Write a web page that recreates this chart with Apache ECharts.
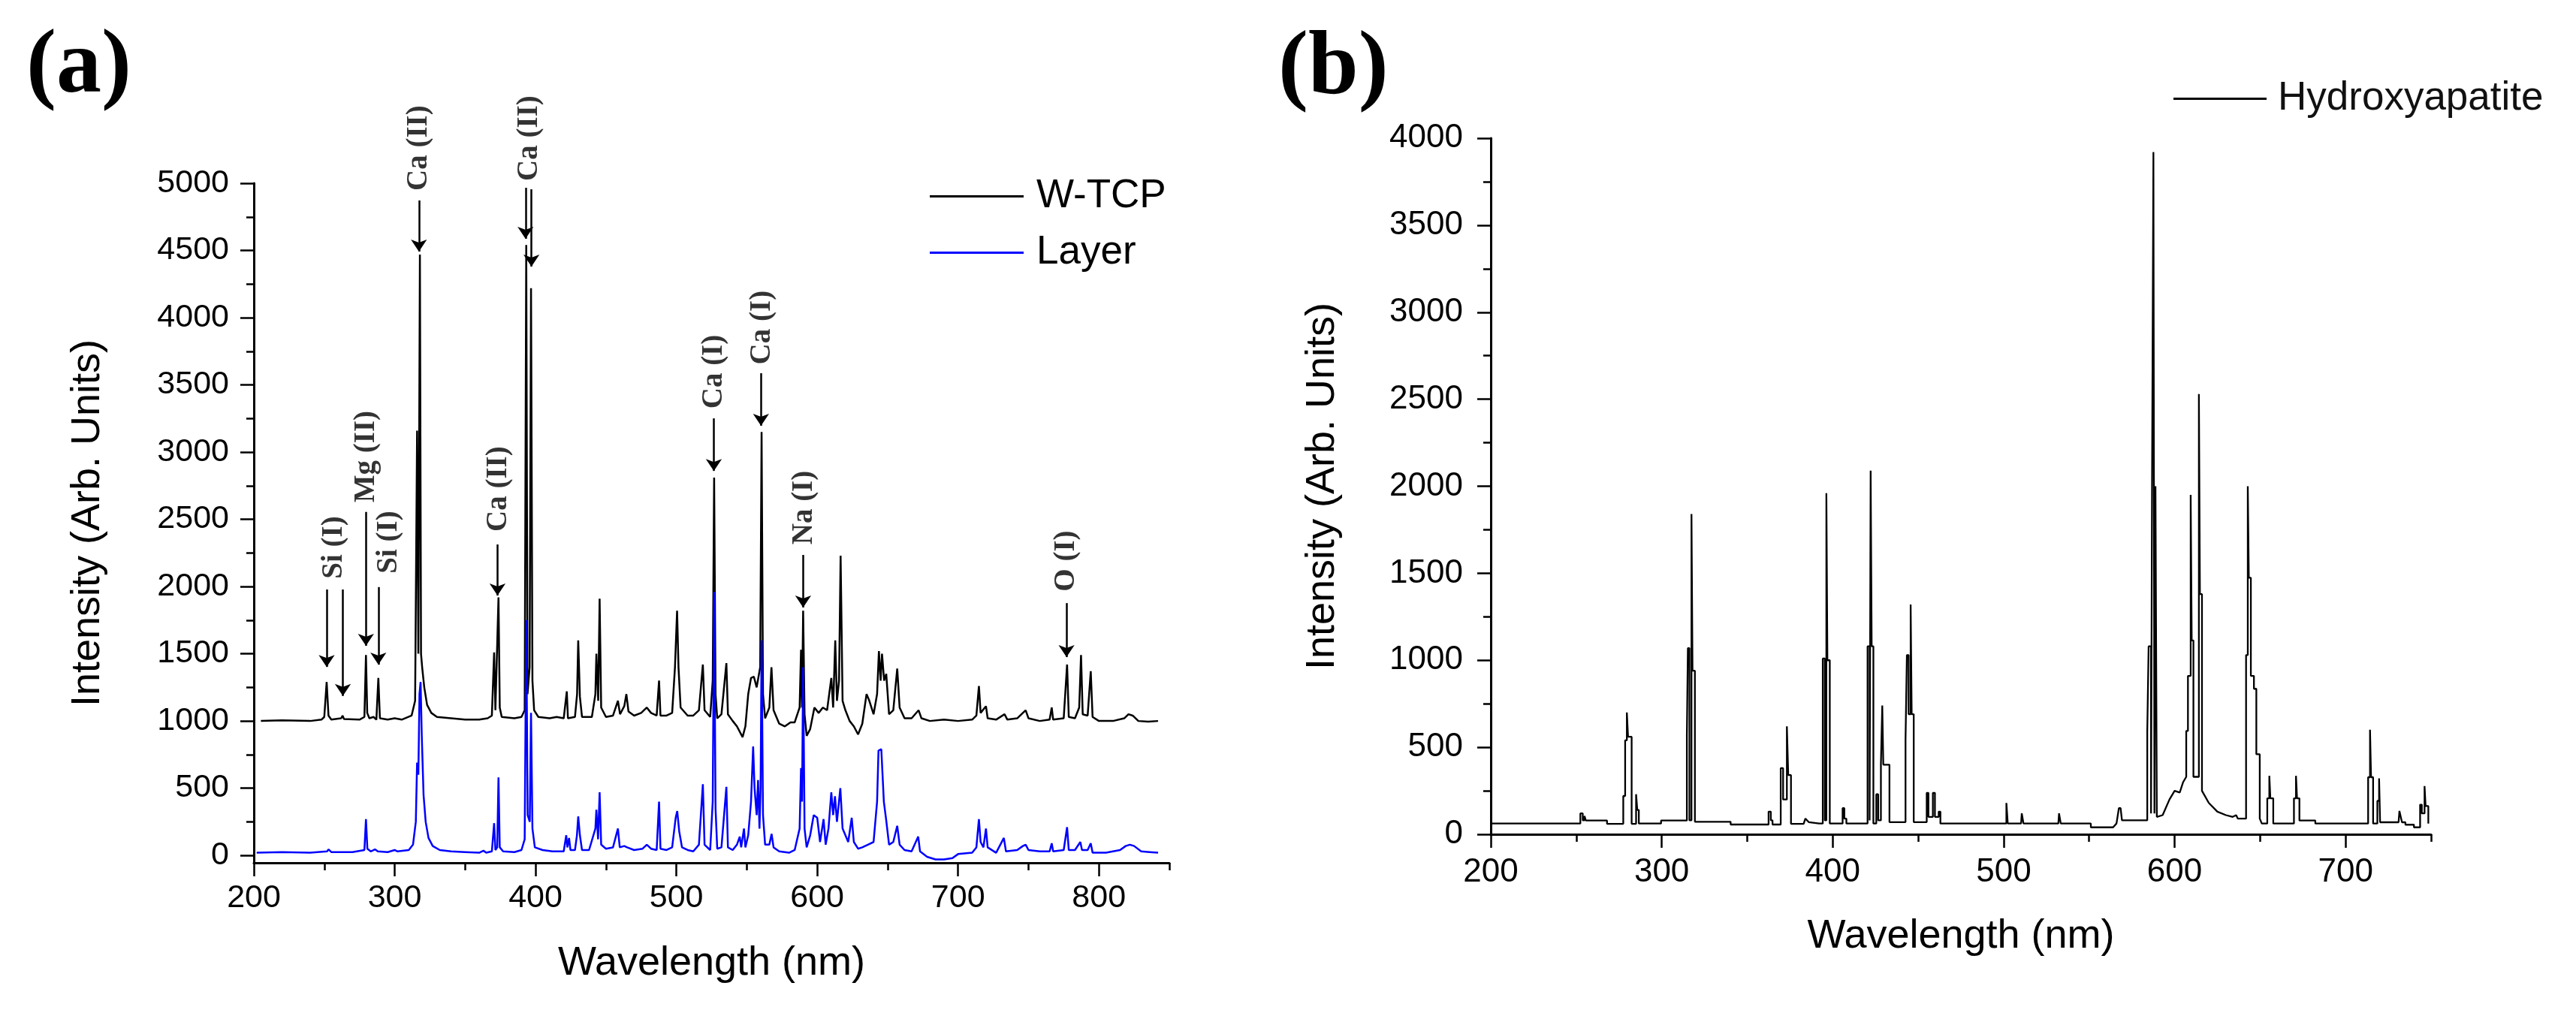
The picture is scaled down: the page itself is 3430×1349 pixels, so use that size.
<!DOCTYPE html>
<html>
<head>
<meta charset="utf-8">
<script src="https://cdn.jsdelivr.net/npm/echarts@6/dist/echarts.min.js"></script>
<style>
html, body { margin: 0; padding: 0; background: #fff; }
#main { width: 3430px; height: 1349px; }
</style>
</head>
<body>
<div id="main"></div>
<script>
// tick values
var aXTicks = [200, 300, 400, 500, 600, 700, 800];
var aXMinor = [250, 350, 450, 550, 650, 750, 850];
var aYTicks = [0, 500, 1000, 1500, 2000, 2500, 3000, 3500, 4000, 4500, 5000];
var aYMinor = [250, 750, 1250, 1750, 2250, 2750, 3250, 3750, 4250, 4750];
var bXTicks = [200, 300, 400, 500, 600, 700];
var bXMinor = [250, 350, 450, 550, 650, 750];
var bYTicks = [0, 500, 1000, 1500, 2000, 2500, 3000, 3500, 4000];
var bYMinor = [250, 750, 1250, 1750, 2250, 2750, 3250, 3750];

// (a) W-TCP spectrum, [nm, intensity]
var wtcp = [
  [205,1000],[220,1005],[240,1000],[248,1010],[250,1030],[251.7,1290],[253,1040],[255,1010],[262,1020],[263,1040],
  [264,1015],[275,1010],[278.5,1030],[279.6,1490],[280.5,1060],[282,1020],[285,1030],[287,1010],[288.4,1320],[289.5,1020],
  [295,1010],[300,1020],[305,1010],[312,1040],[314.5,1150],[315.9,3160],[316.8,1500],[317.9,4470],[318.7,1500],[319.5,1400],
  [321,1250],[323,1120],[326,1060],[330,1030],[340,1020],[350,1010],[360,1010],[366,1020],[369,1040],[370.6,1510],
  [371.5,1080],[372.5,1080],[373.7,1920],[374.6,1100],[376,1030],[385,1020],[390,1030],[392.3,1080],[393.4,4540],[394.3,1200],
  [395.8,1400],[396.8,4220],[397.8,1300],[399,1080],[402,1030],[410,1020],[415,1030],[420,1020],[422.2,1220],[423,1020],
  [428,1030],[429.5,1200],[430.3,1600],[431.5,1180],[433,1030],[440,1030],[442.5,1200],[443.2,1500],[444.5,1150],[445.5,1910],
  [446.6,1100],[450,1030],[455,1040],[458.5,1150],[460,1050],[463,1110],[464.5,1200],[466,1070],[470,1040],[475,1060],
  [479,1100],[482,1060],[486,1040],[487.7,1300],[488.7,1040],[493,1040],[497,1060],[499,1400],[500.5,1820],[501.5,1400],
  [503,1100],[508,1040],[512,1040],[516,1080],[518.8,1420],[520,1080],[524,1030],[525.8,1300],[526.8,2810],[527.8,1200],
  [529,1020],[532,1050],[535.5,1430],[536.6,1050],[540,1000],[543,960],[547,880],[549,960],[551,1200],[553,1320],
  [555,1330],[557,1250],[559.5,1400],[560.5,3150],[561.5,1200],[563,1020],[566,1100],[567.5,1400],[569,1080],[573,980],
  [577,960],[581,990],[584,990],[587.5,1100],[588.5,1530],[589.2,1100],[590,1820],[591,1050],[592.5,890],[595,940],
  [598,1100],[601,1060],[604,1100],[607,1080],[610,1320],[611.3,1100],[612.8,1600],[614,1150],[615.5,1300],[616.6,2230],
  [618,1150],[620,1080],[623,1000],[626,960],[629,900],[632,980],[635,1200],[637,1150],[640,1050],[642.5,1200],
  [643.8,1520],[645,1300],[646,1500],[647.5,1300],[649,1350],[651,1050],[654,1080],[656.8,1390],[658.5,1100],[662,1020],
  [667,1020],[672,1080],[674,1020],[680,1000],[690,1010],[700,1000],[710,1010],[713,1040],[714.8,1260],[716,1060],
  [719.8,1110],[721,1020],[727,1010],[733,1050],[735,1010],[742,1020],[746,1060],[748,1080],[750,1020],[758,1000],
  [765,1010],[766.5,1100],[767.5,1010],[775,1020],[777.4,1420],[778.6,1030],[783,1020],[786,1100],[787.3,1490],[788.5,1050],
  [792,1040],[794.2,1370],[795.5,1030],[800,1000],[810,1000],[818,1020],[821,1050],[824,1040],[828,1000],[835,995],
  [842,1000]
];

// (a) Layer spectrum
var layer = [
  [202,20],[220,25],[240,20],[252,30],[253,45],[255,25],[270,25],[278.5,40],[279.6,270],[280.6,50],
  [283,30],[286,45],[288,30],[295,25],[300,40],[302,30],[310,40],[313,80],[315,250],[315.9,690],
  [316.8,600],[317.6,1200],[318.4,1290],[319.2,900],[320.5,450],[322,250],[324,130],[327,70],[332,40],[340,30],
  [350,25],[360,20],[363,35],[365,20],[369,30],[370.6,240],[371.5,40],[372.8,60],[373.7,580],[374.6,60],
  [377,30],[385,25],[390,40],[392.3,120],[393.4,1750],[394.4,300],[395.9,250],[396.8,1060],[397.8,200],[399.5,60],
  [405,40],[412,30],[420,30],[421.8,150],[422.6,60],[423.8,130],[424.8,40],[428,40],[429.4,150],[430.3,290],
  [431.5,150],[433,40],[438,40],[442.5,200],[443.2,340],[444.4,120],[445.5,470],[446.6,80],[450,50],[455,60],
  [458.5,200],[459.8,60],[463,70],[465,60],[470,40],[476,50],[479,80],[482,50],[486,40],[487.7,400],
  [488.7,50],[493,40],[497,60],[499.5,280],[500.6,330],[502,180],[504,60],[508,40],[512,30],[516,80],
  [518.8,530],[520,80],[524,40],[525.8,400],[526.8,1960],[527.8,350],[529,50],[532,60],[535.5,510],[536.6,60],
  [540,40],[543,80],[545,140],[546,60],[548,200],[549,60],[551,150],[553,400],[554.5,810],[555.5,500],
  [557,300],[558,560],[559,200],[559.8,500],[560.5,1600],[561.5,300],[563,80],[566,80],[567.6,160],[569,60],
  [573,30],[580,20],[584,40],[587.5,200],[588.5,650],[589.2,400],[590,1400],[591,200],[592.5,60],[595,150],
  [597.5,300],[600,280],[602,100],[604.5,270],[606,80],[608,200],[610,470],[611.3,300],[612.6,440],[614,250],
  [616.4,500],[618,200],[620,150],[622,100],[624.5,280],[626,100],[629,50],[632,60],[636,80],[640,100],
  [642.5,400],[643.5,780],[645.5,790],[647.3,400],[649,260],[651,80],[654,100],[656.8,220],[658.5,80],[662,40],
  [667,30],[671.7,140],[673,30],[678,-10],[684,-30],[690,-30],[696,-20],[700,10],[710,20],[713,60],
  [714.8,270],[716,100],[718,60],[719.8,200],[721,60],[727,20],[732.5,130],[734,30],[742,40],[746,70],
  [748,80],[750,40],[758,30],[765,30],[766.5,90],[767.5,30],[775,40],[777.4,210],[778.6,40],[783,40],
  [786.8,100],[788,40],[792,40],[794.2,90],[795.5,20],[805,20],[815,40],[819,70],[822,80],[825,70],
  [830,30],[836,25],[842,20]
];

// (b) Hydroxyapatite spectrum (stepped)
var hap = [
  [200,62],[252.4,62],[252.4,120],[253.8,120],[253.8,80],[254.8,80],[254.8,105],[255.6,105],[255.6,79],[268,79],[268,60],
  [277.5,60],[277.5,220],[278.6,220],[278.6,540],[279.6,540],[279.6,700],[280.3,700],[280.3,560],[282.4,560],[282.4,60],
  [285,60],[285,230],[285.7,230],[285.7,140],[286.6,140],[286.6,62],[299.6,62],[299.6,79],
  [314.7,79],[314.7,570],[315.3,570],[315.3,1070],[316.2,1070],[316.2,80],[317.4,80],[317.4,1840],[318,1840],[318,940],[319.4,940],[319.4,72],
  [340.3,72],[340.3,56],[362.5,56],[362.5,130],[363.8,130],[363.8,80],[364.8,80],[364.8,56],
  [369.6,56],[369.6,380],[371,380],[371,200],[373.2,200],[373.2,620],[374,620],[374,340],[375.6,340],[375.6,60],
  [383,60],[384,90],[386,70],[392,62],
  [394.2,62],[394.2,1010],[395.4,1010],[395.4,80],[396.3,80],[396.3,1960],[396.9,1960],[396.9,1000],[398.3,1000],[398.3,62],
  [405.8,62],[405.8,150],[406.8,150],[406.8,90],[408,90],[408,62],
  [420.4,62],[420.4,1080],[421.6,1080],[421.6,80],[422.2,80],[422.2,2090],[422.8,2090],[422.8,1080],[423.8,1080],[423.8,62],
  [425.5,62],[425.5,230],[426.6,230],[426.6,80],[428.2,80],[428.2,400],[429,400],[429,740],[429.6,740],[429.6,400],[433.2,400],[433.2,70],
  [442.6,70],[442.6,540],[443.4,540],[443.4,1030],[444.4,1030],[444.4,690],[445.6,690],[445.6,1320],[446.2,1320],[446.2,690],[447.4,690],[447.4,70],
  [455,70],[455,238],[456,238],[456,100],[458.6,100],[458.6,238],[459.8,238],[459.8,100],[462,100],[462,130],[463,130],[463,62],
  [501.6,62],[501.6,180],[502.4,180],[502.4,62],[510.2,62],[510.6,120],[511.4,120],[511.6,62],
  [532,62],[532.4,120],[533.2,120],[533.4,62],[551,62],[551,40],[564,40],[566,62],[567.4,150],[568.4,150],[569.2,80],[574,80],
  [584,80],[584,587],[584.8,587],[584.8,1080],[586.2,1080],[586.2,120],[586.8,120],[586.8,2000],[587.6,2000],[587.6,3920],
  [588.2,3920],[588.2,120],[588.8,120],[588.8,2000],[589.6,2000],[589.6,100],
  [593,110],[597,200],[600,250],[603,240],[605,300],[606.8,330],
  [606.8,594],[607.8,594],[607.8,910],[609.4,910],[609.4,1950],[610,1950],[610,1114],[611,1114],[611,330],
  [614.2,330],[614.2,2530],[614.8,2530],[614.8,1380],[616,1380],[616,250],
  [620,180],[625,130],[630,110],[634,100],[636,110],[637,90],
  [641.8,90],[641.8,1030],[642.8,1030],[642.8,2000],[643.4,2000],[643.4,1474],[644.6,1474],[644.6,910],[646.4,910],[646.4,836],
  [647.8,836],[647.8,460],[649.8,460],[649.8,90],[651,62],
  [654.2,62],[654.2,207],[655.4,207],[655.4,336],[656,336],[656,207],[657.7,207],[657.7,62],
  [669.8,62],[669.8,207],[671,207],[671,336],[671.6,336],[671.6,207],[673,207],[673,79],[682.3,79],[682.3,62],
  [713.2,62],[713.2,328],[714.3,328],[714.3,601],[714.9,601],[714.9,328],[716.1,328],[716.1,62],
  [718.6,62],[718.6,192],[719.6,192],[719.6,321],[720.2,321],[720.2,69],
  [731,69],[731.5,134],[732.3,134],[733,69],[735,69],[735,55],[740,55],[740,40],
  [743.6,40],[743.6,170],[744.6,170],[744.6,120],[746.2,120],[746.2,277],[746.8,277],[746.8,162],[748.4,162],[748.4,62]
];

// peak assignments in panel (a): label centre and arrows, in data units
var peakLabels = ['Si (I)', 'Mg (II)', 'Si (I)', 'Ca (II)', 'Ca (II)', 'Ca (II)', 'Ca (I)', 'Ca (I)', 'Na (I)', 'O (I)'];
var labelNm   = [257, 280, 295.9, 317.2, 373.7, 395.5, 526.6, 561.2, 591, 777];
var labelVal  = [2291, 2966, 2330, 5262, 2726, 5335, 3598, 3927, 2587, 2190];
var arrowNm   = [251.7, 263.2, 279.6, 288.4, 317.2, 373, 392.9, 397.1, 526.6, 560.1, 590, 777];
var arrowFrom = [1978, 1978, 2555, 1996, 4872, 2313, 4966, 4955, 3251, 3587, 2235, 1877];
var arrowTo   = [1402, 1186, 1559, 1419, 4492, 1933, 4587, 4380, 2860, 3196, 1844, 1475];

var sans = 'Liberation Sans';
var serif = 'Liberation Serif';

function mainAxis(grid, min, max, ticks, name, nameGap, margin, fontSize) {
  return {
    type: 'value', gridIndex: grid, min: min, max: max,
    name: name, nameLocation: 'middle', nameGap: nameGap,
    nameTextStyle: { fontFamily: sans, fontSize: 54, color: '#000' },
    axisLine: { show: true, onZero: false, lineStyle: { color: '#000', width: 3 } },
    axisTick: { show: true, length: 18, customValues: ticks, lineStyle: { color: '#000', width: 2.5 } },
    axisLabel: {
      customValues: ticks, margin: margin, fontFamily: sans, fontSize: fontSize, color: '#000',
      formatter: function (v) { return String(v); }
    },
    splitLine: { show: false }
  };
}

function minorAxis(grid, min, max, ticks, position) {
  return {
    type: 'value', gridIndex: grid, min: min, max: max, position: position,
    axisLine: { show: false, onZero: false },
    axisTick: { show: true, length: 10, customValues: ticks, lineStyle: { color: '#000', width: 2.5 } },
    axisLabel: { show: false },
    splitLine: { show: false }
  };
}

var xA = mainAxis(0, 200, 850, aXTicks, 'Wavelength (nm)', 107, 26, 43);
var yA = mainAxis(0, -55, 5000, aYTicks, 'Intensity (Arb. Units)', 194, 33, 43);
var xB = mainAxis(1, 200, 750, bXTicks, 'Wavelength (nm)', 109, 29, 44);
var yB = mainAxis(1, 0, 4000, bYTicks, 'Intensity (Arb. Units)', 197, 37, 44);
xA.position = 'bottom'; xB.position = 'bottom';
yA.position = 'left'; yB.position = 'left';

var labelData = peakLabels.map(function (t, i) { return [labelNm[i], labelVal[i], t]; });
var arrowData = arrowNm.map(function (x, i) {
  return [{ coord: [x, arrowFrom[i]] }, { coord: [x, arrowTo[i]] }];
});

var chart = echarts.init(document.getElementById('main'));
chart.setOption({
  animation: false,
  backgroundColor: '#fff',
  textStyle: { fontFamily: sans },
  title: [
    { text: '(a)', left: 30, top: 26, textStyle: { fontFamily: serif, fontWeight: 'bold', fontSize: 120, color: '#000' } },
    { text: '(b)', left: 1697, top: 28, textStyle: { fontFamily: serif, fontWeight: 'bold', fontSize: 120, color: '#000' } }
  ],
  legend: [
    {
      data: ['W-TCP', 'Layer'], orient: 'vertical', left: 1233, top: 230,
      icon: 'rect', itemWidth: 125, itemHeight: 3, itemGap: 22, selectedMode: false,
      textStyle: { fontFamily: sans, fontSize: 53, color: '#000', padding: [0, 0, 0, 12] }
    },
    {
      data: ['Hydroxyapatite'], orient: 'vertical', left: 2889, top: 100,
      icon: 'rect', itemWidth: 124, itemHeight: 3, selectedMode: false,
      textStyle: { fontFamily: sans, fontSize: 53, color: '#111', padding: [0, 0, 0, 10] }
    }
  ],
  grid: [
    { left: 338, top: 244, width: 1219, height: 905 },
    { left: 1985, top: 184, width: 1252, height: 927 }
  ],
  xAxis: [xA, minorAxis(0, 200, 850, aXMinor, 'bottom'), xB, minorAxis(1, 200, 750, bXMinor, 'bottom')],
  yAxis: [yA, minorAxis(0, -55, 5000, aYMinor, 'left'), yB, minorAxis(1, 0, 4000, bYMinor, 'left')],
  series: [
    {
      name: 'W-TCP', type: 'line', xAxisIndex: 0, yAxisIndex: 0, data: wtcp,
      symbol: 'none', lineStyle: { color: '#000', width: 2.5 }, itemStyle: { color: '#000' }
    },
    {
      name: 'Layer', type: 'line', xAxisIndex: 0, yAxisIndex: 0, data: layer,
      symbol: 'none', lineStyle: { color: '#0000ff', width: 2.5 }, itemStyle: { color: '#0000ff' }
    },
    {
      name: 'Hydroxyapatite', type: 'line', xAxisIndex: 2, yAxisIndex: 2, data: hap,
      symbol: 'none', lineStyle: { color: '#000', width: 2.3 }, itemStyle: { color: '#000' }
    },
    {
      name: 'peaks', type: 'scatter', xAxisIndex: 0, yAxisIndex: 0, data: labelData,
      symbolSize: 0, clip: false, silent: true,
      label: {
        show: true, position: 'inside', rotate: 90,
        formatter: function (p) { return p.data[2]; },
        fontFamily: serif, fontWeight: 'bold', fontSize: 39, color: '#000'
      },
      markLine: {
        silent: true, symbol: ['none', 'arrow'], symbolSize: 16,
        label: { show: false },
        lineStyle: { color: '#000', width: 2.5, type: 'solid' },
        data: arrowData
      }
    }
  ]
});
</script>
</body>
</html>
